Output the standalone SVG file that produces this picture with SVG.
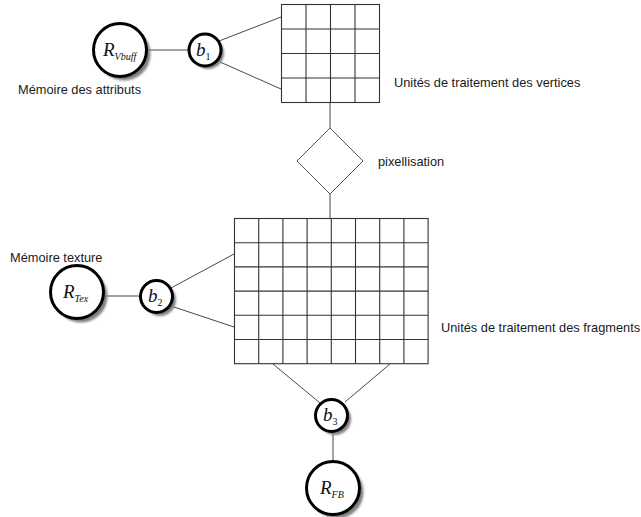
<svg xmlns="http://www.w3.org/2000/svg" width="641" height="517" viewBox="0 0 641 517">
  <defs>
    <style>
      .bg { fill: #ffffff; }
      .grid { fill: #ffffff; stroke: #333333; stroke-width: 1.1; }
      .gl { stroke: #333333; stroke-width: 1.1; }
      .conn { stroke: #333333; stroke-width: 0.9; fill: none; }
      .shadow { fill: #808080; filter: url(#soft); }
      .node { fill: #ffffff; stroke: #000000; stroke-width: 3; }
      .label { font-family: "Liberation Sans", Arial, sans-serif; font-size: 12.8px; fill: #1a1a1a; }
      .math { font-family: "Liberation Serif", "Times New Roman", serif; font-style: italic; fill: #111111; }
      .sub { font-size: 10px; }
      .subn { font-style: normal; font-size: 10px; }
    </style>
    <filter id="soft" x="-20%" y="-20%" width="140%" height="140%">
      <feGaussianBlur stdDeviation="0.8"/>
    </filter>
  </defs>

  <rect class="bg" x="0" y="0" width="641" height="517"/>

  <!-- connectors -->
  <g id="connectors">
    <line class="conn" x1="147" y1="50" x2="189" y2="50"/>
    <line class="conn" x1="219" y1="41" x2="281" y2="17"/>
    <line class="conn" x1="220" y1="62" x2="281" y2="89"/>
    <line class="conn" x1="330" y1="102" x2="330" y2="128"/>
    <line class="conn" x1="330" y1="194" x2="330" y2="245"/>
    <line class="conn" x1="103" y1="296" x2="140" y2="296"/>
    <line class="conn" x1="171" y1="288" x2="234" y2="254"/>
    <line class="conn" x1="171" y1="306" x2="234" y2="327"/>
    <line class="conn" x1="273" y1="364" x2="320" y2="403"/>
    <line class="conn" x1="390" y1="364" x2="345" y2="402"/>
    <line class="conn" x1="333" y1="432" x2="333" y2="462"/>
  </g>

  <!-- vertex processing units: 4 x 4 grid -->
  <g id="vertex-units">
    <rect class="grid" x="281.5" y="4.5" width="98" height="98"/>
    <line class="gl" x1="306" y1="4.5" x2="306" y2="102.5"/>
    <line class="gl" x1="330.5" y1="4.5" x2="330.5" y2="102.5"/>
    <line class="gl" x1="355" y1="4.5" x2="355" y2="102.5"/>
    <line class="gl" x1="281.5" y1="29" x2="379.5" y2="29"/>
    <line class="gl" x1="281.5" y1="53.5" x2="379.5" y2="53.5"/>
    <line class="gl" x1="281.5" y1="78" x2="379.5" y2="78"/>
    <text class="label" x="394" y="87">Unités de traitement des vertices</text>
  </g>

  <!-- rasterisation step -->
  <g id="pixellisation">
    <polygon points="330,128 363,161 330,194 297,161" fill="#ffffff" stroke="#555555" stroke-width="1"/>
    <text class="label" x="378" y="166">pixellisation</text>
  </g>

  <!-- fragment processing units: 8 x 6 grid -->
  <g id="fragment-units">
    <rect class="grid" x="234.5" y="218.5" width="193.6" height="145.2"/>
    <line class="gl" x1="258.7" y1="218.5" x2="258.7" y2="363.7"/>
    <line class="gl" x1="282.9" y1="218.5" x2="282.9" y2="363.7"/>
    <line class="gl" x1="307.1" y1="218.5" x2="307.1" y2="363.7"/>
    <line class="gl" x1="331.3" y1="218.5" x2="331.3" y2="363.7"/>
    <line class="gl" x1="355.5" y1="218.5" x2="355.5" y2="363.7"/>
    <line class="gl" x1="379.7" y1="218.5" x2="379.7" y2="363.7"/>
    <line class="gl" x1="403.9" y1="218.5" x2="403.9" y2="363.7"/>
    <line class="gl" x1="234.5" y1="242.7" x2="428.1" y2="242.7"/>
    <line class="gl" x1="234.5" y1="266.9" x2="428.1" y2="266.9"/>
    <line class="gl" x1="234.5" y1="291.1" x2="428.1" y2="291.1"/>
    <line class="gl" x1="234.5" y1="315.3" x2="428.1" y2="315.3"/>
    <line class="gl" x1="234.5" y1="339.5" x2="428.1" y2="339.5"/>
    <text class="label" x="441" y="332">Unités de traitement des fragments</text>
  </g>

  <!-- attribute memory -->
  <g id="r-vbuff">
    <circle class="shadow" cx="124" cy="54" r="26.5"/>
    <circle class="node" cx="120" cy="50" r="26.5"/>
    <text class="math" x="103" y="56" font-size="19">R<tspan class="sub" dy="4">Vbuff</tspan></text>
    <text class="label" x="18" y="94">Mémoire des attributs</text>
  </g>

  <g id="b1">
    <circle class="shadow" cx="208" cy="53" r="16"/>
    <circle class="node" cx="205" cy="50" r="16"/>
    <text class="math" x="196" y="56" font-size="19">b<tspan class="subn" dy="4">1</tspan></text>
  </g>

  <!-- texture memory -->
  <g id="r-tex">
    <circle class="shadow" cx="81" cy="296" r="26.5"/>
    <circle class="node" cx="77" cy="292" r="26.5"/>
    <text class="math" x="63" y="298" font-size="19">R<tspan class="sub" dy="4">Tex</tspan></text>
    <text class="label" x="10" y="262">Mémoire texture</text>
  </g>

  <g id="b2">
    <circle class="shadow" cx="160" cy="300" r="16"/>
    <circle class="node" cx="156.5" cy="296.5" r="16"/>
    <text class="math" x="148" y="302" font-size="19">b<tspan class="subn" dy="4">2</tspan></text>
  </g>

  <g id="b3">
    <circle class="shadow" cx="335" cy="419" r="16"/>
    <circle class="node" cx="331.5" cy="415.5" r="16"/>
    <text class="math" x="323" y="421" font-size="19">b<tspan class="subn" dy="4">3</tspan></text>
  </g>

  <!-- frame buffer -->
  <g id="r-fb">
    <circle class="shadow" cx="337" cy="492" r="26.5"/>
    <circle class="node" cx="333" cy="488" r="26.5"/>
    <text class="math" x="320" y="494" font-size="19">R<tspan class="sub" dy="4">FB</tspan></text>
  </g>
</svg>
